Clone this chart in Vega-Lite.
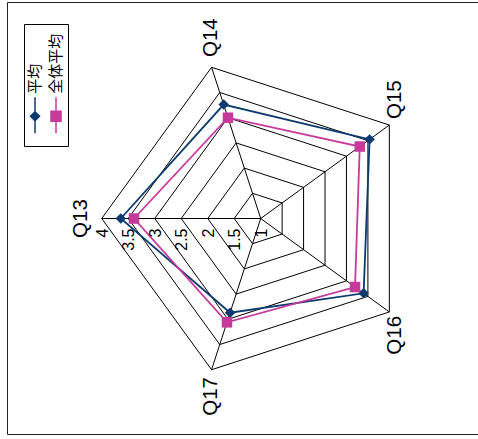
{
  "$schema": "https://vega.github.io/schema/vega-lite/v6.json",
  "width": 471,
  "height": 432,
  "autosize": "none",
  "padding": {"left": 7, "top": 2, "right": 0, "bottom": 5},
  "background": "white",
  "config": {
    "view": {"stroke": "#222222", "strokeWidth": 1, "strokeDash": [471, 432, 903]},
    "font": "Liberation Sans",
    "legend": {
      "title": null, "orient": "none", "legendX": 17, "legendY": 22, "direction": "horizontal",
      "strokeColor": "black", "fillColor": "white", "padding": 4,
      "symbolSize": 144, "symbolStrokeWidth": 1.5,
      "labelFont": "Noto Sans CJK JP", "labelFontSize": 15, "labelColor": "black",
      "columnPadding": 5
    }
  },
  "datasets": {
    "scores": [
      {"q": "Q13", "series": "平均", "value": 3.64},
      {"q": "Q14", "series": "平均", "value": 3.26},
      {"q": "Q15", "series": "平均", "value": 3.54},
      {"q": "Q16", "series": "平均", "value": 3.40},
      {"q": "Q17", "series": "平均", "value": 2.87},
      {"q": "Q13", "series": "全体平均", "value": 3.39},
      {"q": "Q14", "series": "全体平均", "value": 3.00},
      {"q": "Q15", "series": "全体平均", "value": 3.31},
      {"q": "Q16", "series": "全体平均", "value": 3.20},
      {"q": "Q17", "series": "全体平均", "value": 3.06}
    ],
    "grid": [
      {"level": 1, "q": ["Q13", "Q14", "Q15", "Q16", "Q17"]},
      {"level": 1.5, "q": ["Q13", "Q14", "Q15", "Q16", "Q17"]},
      {"level": 2, "q": ["Q13", "Q14", "Q15", "Q16", "Q17"]},
      {"level": 2.5, "q": ["Q13", "Q14", "Q15", "Q16", "Q17"]},
      {"level": 3, "q": ["Q13", "Q14", "Q15", "Q16", "Q17"]},
      {"level": 3.5, "q": ["Q13", "Q14", "Q15", "Q16", "Q17"]},
      {"level": 4, "q": ["Q13", "Q14", "Q15", "Q16", "Q17"]}
    ]
  },
  "encoding": {
    "x": {"field": "px", "type": "quantitative", "scale": {"domain": [-4.7868, 4.1], "nice": false, "zero": false}, "axis": null},
    "y": {"field": "py", "type": "quantitative", "scale": {"domain": [-4.066, 4.0849], "nice": false, "zero": false}, "axis": null}
  },
  "layer": [
    {
      "data": {"name": "grid"},
      "transform": [
        {"flatten": ["q"]},
        {"calculate": "indexof(['Q13','Q14','Q15','Q16','Q17'], datum.q)", "as": "idx"},
        {"calculate": "-(datum.level - 1) * cos(datum.idx * 2 * PI / 5)", "as": "px"},
        {"calculate": "(datum.level - 1) * sin(datum.idx * 2 * PI / 5)", "as": "py"}
      ],
      "mark": {"type": "line", "interpolate": "linear-closed", "stroke": "black", "strokeWidth": 1},
      "encoding": {
        "detail": {"field": "level", "type": "nominal"},
        "order": {"field": "idx", "type": "quantitative"}
      }
    },
    {
      "data": {"name": "grid"},
      "transform": [
        {"flatten": ["q"]},
        {"filter": "datum.level === 4"},
        {"calculate": "indexof(['Q13','Q14','Q15','Q16','Q17'], datum.q)", "as": "idx"},
        {"calculate": "-(datum.level - 1) * cos(datum.idx * 2 * PI / 5)", "as": "px"},
        {"calculate": "(datum.level - 1) * sin(datum.idx * 2 * PI / 5)", "as": "py"}
      ],
      "mark": {"type": "rule", "stroke": "black", "strokeWidth": 1},
      "encoding": {
        "x2": {"datum": 0},
        "y2": {"datum": 0}
      }
    },
    {
      "data": {"name": "scores"},
      "transform": [
        {"calculate": "indexof(['Q13','Q14','Q15','Q16','Q17'], datum.q)", "as": "idx"},
        {"calculate": "-(datum.value - 1) * cos(datum.idx * 2 * PI / 5)", "as": "px"},
        {"calculate": "(datum.value - 1) * sin(datum.idx * 2 * PI / 5)", "as": "py"}
      ],
      "mark": {"type": "line", "interpolate": "linear-closed", "strokeWidth": 1.8},
      "encoding": {
        "order": {"field": "idx", "type": "quantitative"},
        "color": {
          "field": "series", "type": "nominal",
          "scale": {"domain": ["平均", "全体平均"], "range": ["#0b3a6f", "#c7399b"]},
          "legend": {
            "encoding": {
              "labels": {"angle": {"value": 270}, "align": {"value": "left"}, "baseline": {"value": "middle"}, "x": {"value": 6.5}, "y": {"value": 65.5}, "dx": {"value": 0}, "dy": {"value": 0}},
              "symbols": {
                "shape": {"condition": {"test": "datum.value === '平均'", "value": "M0,11.5L0,17.5M0,13.917L0.75,14.667L0,15.417L-0.75,14.667ZM0,18.4L0,18.4"}, "value": "M0,11.5L0,17.5M-0.83,13.837L0.83,13.837L0.83,15.497L-0.83,15.497ZM0,18.4L0,18.4"},
                "fill": {"condition": {"test": "datum.value === '平均'", "value": "#0b3a6f"}, "value": "#c7399b"},
                "stroke": {"condition": {"test": "datum.value === '平均'", "value": "#0b3a6f"}, "value": "#c7399b"},
                "fillOpacity": {"value": 1},
                "strokeOpacity": {"value": 1},
                "size": {"value": 144},
                "strokeWidth": {"value": 1.5},
                "x": {"value": 7},
                "y": {"value": 0}
              }
            }
          }
        }
      }
    },
    {
      "data": {"name": "scores"},
      "transform": [
        {"calculate": "indexof(['Q13','Q14','Q15','Q16','Q17'], datum.q)", "as": "idx"},
        {"calculate": "-(datum.value - 1) * cos(datum.idx * 2 * PI / 5)", "as": "px"},
        {"calculate": "(datum.value - 1) * sin(datum.idx * 2 * PI / 5)", "as": "py"}
      ],
      "mark": {"type": "point", "filled": true, "opacity": 1},
      "encoding": {
        "color": {
          "field": "series", "type": "nominal",
          "scale": {"domain": ["平均", "全体平均"], "range": ["#0b3a6f", "#c7399b"]},
          "legend": {
            "encoding": {
              "labels": {"angle": {"value": 270}, "align": {"value": "left"}, "baseline": {"value": "middle"}, "x": {"value": 6.5}, "y": {"value": 65.5}, "dx": {"value": 0}, "dy": {"value": 0}},
              "symbols": {
                "shape": {"condition": {"test": "datum.value === '平均'", "value": "M0,11.5L0,17.5M0,13.917L0.75,14.667L0,15.417L-0.75,14.667ZM0,18.4L0,18.4"}, "value": "M0,11.5L0,17.5M-0.83,13.837L0.83,13.837L0.83,15.497L-0.83,15.497ZM0,18.4L0,18.4"},
                "fill": {"condition": {"test": "datum.value === '平均'", "value": "#0b3a6f"}, "value": "#c7399b"},
                "stroke": {"condition": {"test": "datum.value === '平均'", "value": "#0b3a6f"}, "value": "#c7399b"},
                "fillOpacity": {"value": 1},
                "strokeOpacity": {"value": 1},
                "size": {"value": 144},
                "strokeWidth": {"value": 1.5},
                "x": {"value": 7},
                "y": {"value": 0}
              }
            }
          }
        },
        "shape": {"condition": {"test": "datum.series === '平均'", "value": "diamond"}, "value": "square"},
        "size": {"condition": {"test": "datum.series === '平均'", "value": 110}, "value": 110}
      }
    },
    {
      "data": {"name": "grid"},
      "transform": [
        {"flatten": ["q"]},
        {"filter": "datum.q === 'Q13'"},
        {"calculate": "-(datum.level - 1)", "as": "px"},
        {"calculate": "0", "as": "py"}
      ],
      "mark": {"type": "text", "angle": 270, "align": "right", "baseline": "middle", "fontSize": 16, "yOffset": 10, "xOffset": 1, "color": "black"},
      "encoding": {"text": {"field": "level", "type": "quantitative"}}
    },
    {
      "data": {"name": "grid"},
      "transform": [
        {"flatten": ["q"]},
        {"filter": "datum.level === 4 && datum.q === 'Q13'"},
        {"calculate": "-3", "as": "px"},
        {"calculate": "0", "as": "py"}
      ],
      "mark": {"type": "text", "angle": 270, "align": "center", "baseline": "alphabetic", "fontSize": 20.5, "xOffset": -14.7, "color": "black"},
      "encoding": {"text": {"field": "q", "type": "nominal"}}
    },
    {
      "data": {"name": "grid"},
      "transform": [
        {"flatten": ["q"]},
        {"filter": "datum.level === 4 && datum.q === 'Q14'"},
        {"calculate": "-3 * cos(2 * PI / 5)", "as": "px"},
        {"calculate": "3 * sin(2 * PI / 5)", "as": "py"}
      ],
      "mark": {"type": "text", "angle": 270, "align": "left", "baseline": "middle", "fontSize": 20.5, "xOffset": -0.6, "yOffset": -10.3, "color": "black"},
      "encoding": {"text": {"field": "q", "type": "nominal"}}
    },
    {
      "data": {"name": "grid"},
      "transform": [
        {"flatten": ["q"]},
        {"filter": "datum.level === 4 && datum.q === 'Q15'"},
        {"calculate": "-3 * cos(4 * PI / 5)", "as": "px"},
        {"calculate": "3 * sin(4 * PI / 5)", "as": "py"}
      ],
      "mark": {"type": "text", "angle": 270, "align": "left", "baseline": "middle", "fontSize": 20.5, "xOffset": 5.4, "yOffset": -6, "color": "black"},
      "encoding": {"text": {"field": "q", "type": "nominal"}}
    },
    {
      "data": {"name": "grid"},
      "transform": [
        {"flatten": ["q"]},
        {"filter": "datum.level === 4 && datum.q === 'Q16'"},
        {"calculate": "-3 * cos(6 * PI / 5)", "as": "px"},
        {"calculate": "3 * sin(6 * PI / 5)", "as": "py"}
      ],
      "mark": {"type": "text", "angle": 270, "align": "right", "baseline": "middle", "fontSize": 20.5, "xOffset": 5.2, "yOffset": 4, "color": "black"},
      "encoding": {"text": {"field": "q", "type": "nominal"}}
    },
    {
      "data": {"name": "grid"},
      "transform": [
        {"flatten": ["q"]},
        {"filter": "datum.level === 4 && datum.q === 'Q17'"},
        {"calculate": "-3 * cos(8 * PI / 5)", "as": "px"},
        {"calculate": "3 * sin(8 * PI / 5)", "as": "py"}
      ],
      "mark": {"type": "text", "angle": 270, "align": "right", "baseline": "middle", "fontSize": 20.5, "xOffset": -0.6, "yOffset": 7.3, "color": "black"},
      "encoding": {"text": {"field": "q", "type": "nominal"}}
    }
  ]
}
